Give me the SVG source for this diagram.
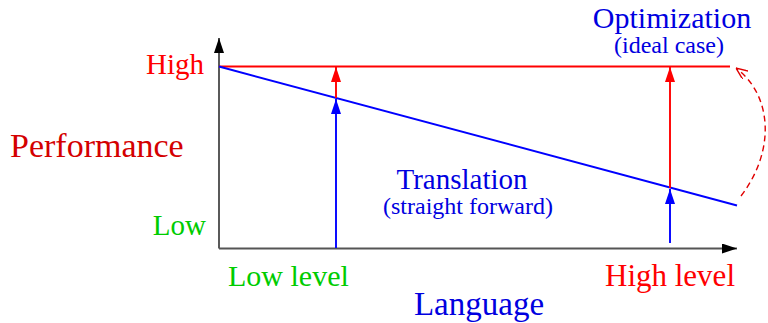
<svg xmlns="http://www.w3.org/2000/svg" width="768" height="323" viewBox="0 0 768 323">
<style>
text{font-family:"Liberation Serif","Times New Roman",serif}
.red{fill:#ff0000}
.dred{fill:#d40000}
.green{fill:#00cc00}
.blue{fill:#0000e0}
.rl{stroke:#ff0000;stroke-width:1.9;fill:none}
.bl{stroke:#0000ff;stroke-width:1.9;fill:none}
</style>
<defs>
<marker id="ak" viewBox="0 0 15 10" refX="15" refY="5" markerWidth="15" markerHeight="10" orient="auto" markerUnits="userSpaceOnUse"><path d="M0,0 L15,5 L0,10 z" fill="#000"/></marker>
<marker id="ar" viewBox="0 0 15 10" refX="15" refY="5" markerWidth="15" markerHeight="10" orient="auto" markerUnits="userSpaceOnUse"><path d="M0,0 L15,5 L0,10 z" fill="#ff0000"/></marker>
<marker id="ab" viewBox="0 0 15 10" refX="15" refY="5" markerWidth="15" markerHeight="10" orient="auto" markerUnits="userSpaceOnUse"><path d="M0,0 L15,5 L0,10 z" fill="#0000ff"/></marker>
<marker id="ad" viewBox="0 0 12 10" refX="12" refY="5" markerWidth="12" markerHeight="10" orient="auto" markerUnits="userSpaceOnUse"><path d="M0,0 L12,5 L0,10" fill="none" stroke="#e00000" stroke-width="1.4"/></marker>
</defs>
<g id="axes">
<line x1="219" y1="248.5" x2="219" y2="38" stroke="#000" stroke-width="1.3" marker-end="url(#ak)"/>
<line x1="219" y1="248.5" x2="737" y2="248.5" stroke="#555" stroke-width="2" marker-end="url(#ak)"/>
</g>
<g id="connectors">
<line class="rl" x1="219" y1="66.5" x2="730" y2="66.5"/>
<line class="bl" x1="219" y1="66.5" x2="737" y2="205.5"/>
<line class="bl" x1="336" y1="248" x2="336" y2="99" marker-end="url(#ab)"/>
<line class="rl" x1="336" y1="98" x2="336" y2="67" marker-end="url(#ar)"/>
<line class="bl" x1="670" y1="243" x2="670" y2="189" marker-end="url(#ab)"/>
<line class="rl" x1="670" y1="188" x2="670" y2="67" marker-end="url(#ar)"/>
<path d="M741,196 C776,150 772,95 736,68" fill="none" stroke="#e00000" stroke-width="1.4" stroke-dasharray="6,4" marker-end="url(#ad)"/>
</g>
<g id="labels">
<text class="red" x="204" y="74" font-size="29" text-anchor="end">High</text>
<text class="dred" x="10" y="157" font-size="34">Performance</text>
<text class="green" x="206" y="235" font-size="29" text-anchor="end">Low</text>
<text class="green" x="228" y="286" font-size="30">Low level</text>
<text class="red" x="735" y="286" font-size="31" text-anchor="end">High level</text>
<text class="blue" x="479" y="315" font-size="33" text-anchor="middle">Language</text>
</g>
<g id="translation">
<text class="blue" x="462" y="189" font-size="29" text-anchor="middle">Translation</text>
<text class="blue" x="468" y="214" font-size="24" text-anchor="middle">(straight forward)</text>
</g>
<g id="optimization">
<text class="blue" x="672" y="28" font-size="30" text-anchor="middle">Optimization</text>
<text class="blue" x="669" y="53" font-size="24" text-anchor="middle">(ideal case)</text>
</g>
</svg>
